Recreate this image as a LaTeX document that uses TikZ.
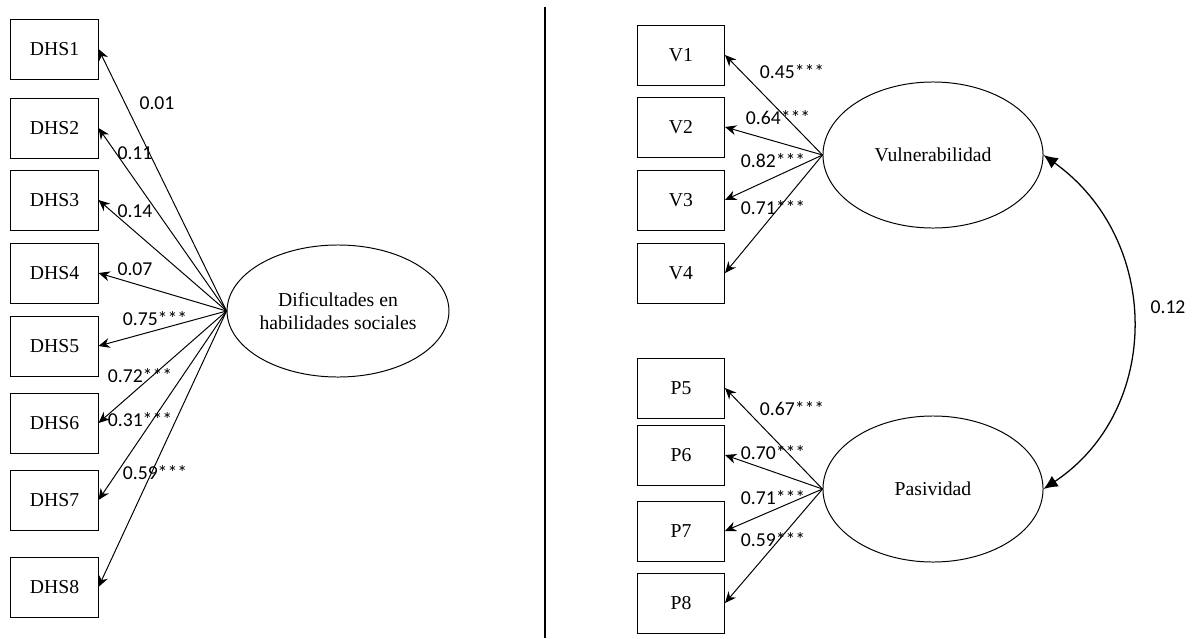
\documentclass[tikz,border=0pt]{standalone}
\usepackage{fontspec}
\setmainfont{Liberation Serif}
\newfontfamily\labfont{Carlito}
\usetikzlibrary{arrows.meta,shapes.geometric}

\tikzset{
    item/.style={draw,line width=0.7pt,minimum width=2.175cm,minimum height=1.5cm,
        inner sep=0pt,font=\fontsize{14}{16}\selectfont},
    factor/.style={draw,ellipse,line width=0.7pt,minimum width=5.5cm,inner sep=0pt,
        align=center,font=\fontsize{14}{16}\selectfont},
    load/.style={-{Stealth[length=8pt,width=7pt]},line width=0.7pt},
    coef/.style={font=\labfont\fontsize{14}{16}\selectfont,inner sep=0pt}
}

\begin{document}
\begin{tikzpicture}[x=0.025cm,y=-0.025cm]
    \useasboundingbox (0,0) rectangle (1194,638);

    % Separador
    \draw[line width=1.4pt] (545,7) -- (545,638);

    % Factor izquierdo
    \node[factor,minimum height=3.3cm] (dhs) at (338,311) {Dificultades en\\habilidades sociales};

    \foreach \i/\y/\lx/\ly/\val in {1/49/157/103/0.01, 2/128/135/153/0.11, 3/200/135/211/0.14,
        4/273/135/269/0.07, 5/346/155/319/0.75***, 6/423/140/376/0.72***,
        7/500/140/420/0.31***, 8/587/155/473/0.59***} {
        \node[item] (d\i) at (54.5,\y) {DHS\i};
        \draw[load] (dhs.west) -- (d\i.east);
        \node[coef] (cd\i) at (\lx,\ly) {\val};
    }

    % Factores derechos
    \node[factor,minimum height=3.65cm] (vul) at (933,155) {Vulnerabilidad};
    \node[factor,minimum height=3.65cm] (pas) at (933,489) {Pasividad};

    \foreach \i/\y/\lx/\ly/\val in {1/55/792/72/0.45***, 2/127/778/118/0.64***,
        3/200/773/161/0.82***, 4/273/773/208/0.71***} {
        \node[item] (v\i) at (681,\y) {V\i};
        \draw[load] (vul.west) -- (v\i.east);
        \node[coef] (cv\i) at (\lx,\ly) {\val};
    }

    \foreach \i/\y/\lx/\ly/\val in {5/388/792/409/0.67***, 6/455/773/453/0.70***,
        7/531/773/498/0.71***, 8/603/773/540/0.59***} {
        \node[item] (p\i) at (681,\y) {P\i};
        \draw[load] (pas.west) -- (p\i.east);
        \node[coef] (cp\i) at (\lx,\ly) {\val};
    }

    % Covarianza
    \draw[{Latex[length=10pt,width=9pt]}-{Latex[length=10pt,width=9pt]},line width=0.9pt]
        (vul.east) .. controls (1162,240) and (1162,410) .. (pas.east);
    \node[coef] (cov) at (1168,307) {0.12};
\end{tikzpicture}
\end{document}
